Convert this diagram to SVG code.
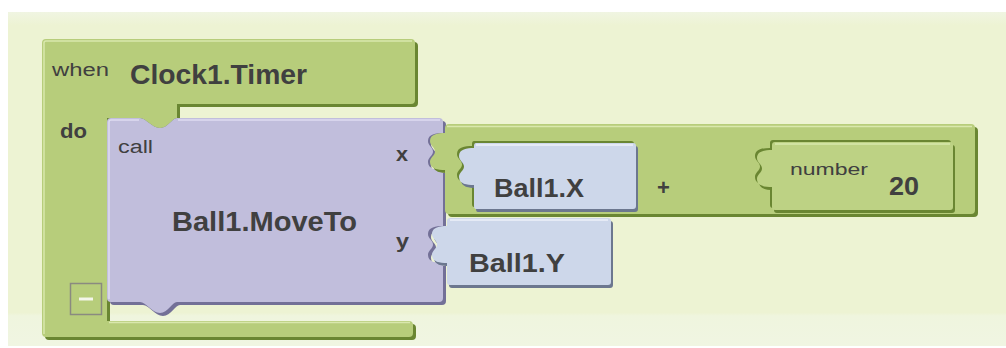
<svg xmlns="http://www.w3.org/2000/svg" xmlns:xlink="http://www.w3.org/1999/xlink" width="1006" height="348" viewBox="0 0 1006 348">
  <style>
    .t { font-family: "Liberation Sans", Arial, sans-serif; fill: #404040; }
    .b { font-weight: bold; }
    .green { fill: #b7cd7b; }
    .green-lt { fill: #bdd284; }
    .green-sh { fill: #6a8632; }
    .purple { fill: #c1bedc; }
    .purple-sh { fill: #737097; }
    .blue { fill: #cdd7ea; }
    .blue-sh { fill: #6c778f; }
    .hl-g { fill: none; stroke: #d9e8ad; stroke-width: 1.5; }
    .hl-p { fill: none; stroke: #dedcf1; stroke-width: 1.5; }
    .hl-b { fill: none; stroke: #edf1f9; stroke-width: 1.5; }
  </style>
  <defs>
    <linearGradient id="panelFill" x1="0" y1="0" x2="0" y2="1">
      <stop offset="0" stop-color="#f0f5e2"/>
      <stop offset="0.04" stop-color="#edf3d3"/>
      <stop offset="0.9" stop-color="#edf3d3"/>
      <stop offset="0.91" stop-color="#eff5de"/>
      <stop offset="1" stop-color="#f0f5e2"/>
    </linearGradient>
    <!-- event block: C-shaped "when ... do" -->
    <path id="p-event" d="M46,39 H411 Q415,39 415,43 V100 Q415,104 411,104 H177 V118 C172,118 168,128 160,128 C152,128 146,118 140,118 H107 V321 H409 Q413,321 413,325 V333 Q413,337 409,337 H46 Q42,337 42,333 V43 Q42,39 46,39 Z"/>
    <!-- procedure call block with two value sockets on the right -->
    <path id="p-call" d="M111,118 H140 C146,118 152,128 160,128 C168,128 172,118 177,118 H439 Q443,118 443,122 V133 C436,133 428,134 428,141 C428,146 433,147 433,151.5 C433,156 428,157 428,162 C428,169 436,170 443,170 V226 C436,226 428,227 428,234 C428,239 433,240 433,244.5 C433,249 428,250 428,255 C428,262 436,263 443,263 V298 Q443,302 439,302 H177 C172,302 168,313 160,313 C152,313 146,302 140,302 H111 Q107,302 107,298 V122 Q107,118 111,118 Z"/>
    <!-- addition block, plug on the left -->
    <path id="p-plus" d="M449,124 H971 Q975,124 975,128 V210 Q975,214 971,214 H449 Q445,214 445,210 V170 C438,170 430,169 430,162 C430,157 435,156 435,151.5 C435,147 430,146 430,141 C430,134 438,133 445,133 V128 Q445,124 449,124 Z"/>
    <path id="p-ballx" d="M476,143 H633 Q636,143 636,146 V206 Q636,209 633,209 H476 Q474,209 474,206 V185 C467,185 459,184 459,177 C459,172 464,171 464,166.5 C464,162 459,161 459,156 C459,149 467,148 474,148 V146 Q474,143 476,143 Z"/>
    <path id="p-number" d="M775,142 H950 Q953,142 953,145 V207 Q953,210 950,210 H775 Q772,210 772,207 V187 C765,187 757,186 757,179 C757,174 762,173 762,168.5 C762,164 757,163 757,158 C757,151 765,150 772,150 V145 Q772,142 775,142 Z"/>
    <path id="p-bally" d="M450,218 H608 Q611,218 611,221 V282 Q611,285 608,285 H450 Q447,285 447,282 V263 C440,263 432,262 432,255 C432,250 437,249 437,244.5 C437,240 432,239 432,234 C432,227 440,226 447,226 V221 Q447,218 450,218 Z"/>
  </defs>

  <!-- workspace -->
  <g id="panel">
    <rect x="0" y="0" width="1006" height="348" fill="#ffffff"/>
    <rect x="8" y="12" width="998" height="334" fill="url(#panelFill)"/>
  </g>

  <!-- when Clock1.Timer do -->
  <g id="event-clock-timer">
    <use xlink:href="#p-event" class="green-sh" transform="translate(3,3)"/>
    <use xlink:href="#p-event" class="green"/>
    <path class="hl-g" d="M44,334 V43 Q44,41 46,41 H412"/>
    <path class="hl-g" d="M109,322.5 H410"/>
    <text class="t" x="52" y="76" font-size="18" textLength="57" lengthAdjust="spacingAndGlyphs">when</text>
    <text class="t b" x="130" y="84" font-size="27" textLength="177" lengthAdjust="spacingAndGlyphs">Clock1.Timer</text>
    <text class="t b" x="60" y="138" font-size="20" textLength="27" lengthAdjust="spacingAndGlyphs">do</text>
    <g id="collapse-toggle">
      <rect x="70.5" y="283.5" width="31" height="31" fill="#b7cd7b" stroke="#8a8a80" stroke-width="1.5"/>
      <rect x="79" y="297.5" width="14" height="3" fill="#f4f6ea"/>
    </g>
  </g>

  <!-- call Ball1.MoveTo -->
  <g id="call-ball-moveto">
    <use xlink:href="#p-call" class="purple-sh" transform="translate(3,3)"/>
    <use xlink:href="#p-call" class="purple"/>
    <path class="hl-p" d="M109,299 V122 Q109,120 111,120 H139 M178,120 H440"/>
    <text class="t" x="118" y="153" font-size="18" textLength="35" lengthAdjust="spacingAndGlyphs">call</text>
    <text class="t b" x="172" y="231" font-size="27" textLength="185" lengthAdjust="spacingAndGlyphs">Ball1.MoveTo</text>
    <text class="t b" x="396" y="161" font-size="20" textLength="12" lengthAdjust="spacingAndGlyphs">x</text>
    <text class="t b" x="396" y="248" font-size="20" textLength="13" lengthAdjust="spacingAndGlyphs">y</text>
  </g>

  <!-- Ball1.X + number 20 -->
  <g id="math-add">
    <use xlink:href="#p-plus" class="green-sh" transform="translate(3,3)"/>
    <use xlink:href="#p-plus" class="green"/>
    <path class="hl-g" d="M447,126.5 H972"/>
    <text class="t b" x="657" y="195" font-size="22">+</text>
  </g>

  <g id="getter-ball-x">
    <use xlink:href="#p-ballx" class="green-sh" transform="translate(-2,-2)"/>
    <use xlink:href="#p-ballx" class="blue-sh" transform="translate(2,3)"/>
    <use xlink:href="#p-ballx" class="blue"/>
    <path class="hl-b" d="M476,145 H633"/>
    <text class="t b" x="494" y="197" font-size="26" textLength="90" lengthAdjust="spacingAndGlyphs">Ball1.X</text>
  </g>

  <g id="number-20">
    <use xlink:href="#p-number" class="green-sh" transform="translate(-2,-2)"/>
    <use xlink:href="#p-number" class="green-sh" transform="translate(2,3)"/>
    <use xlink:href="#p-number" class="green-lt"/>
    <path class="hl-g" d="M775,144 H950"/>
    <text class="t" x="790" y="175" font-size="17" textLength="78" lengthAdjust="spacingAndGlyphs">number</text>
    <text class="t b" x="889" y="195" font-size="25" textLength="30" lengthAdjust="spacingAndGlyphs">20</text>
  </g>

  <!-- Ball1.Y -->
  <g id="getter-ball-y">
    <use xlink:href="#p-bally" class="blue-sh" transform="translate(2,3)"/>
    <use xlink:href="#p-bally" class="blue"/>
    <path class="hl-b" d="M450,220 H608"/>
    <text class="t b" x="469" y="272" font-size="26" textLength="96" lengthAdjust="spacingAndGlyphs">Ball1.Y</text>
  </g>
</svg>
